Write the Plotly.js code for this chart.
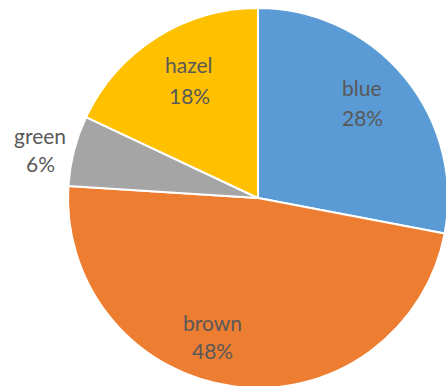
<!DOCTYPE html>
<html>
<head>
<meta charset="utf-8">
<script src="https://cdn.plot.ly/plotly-3.0.1.min.js"></script>
<style>
  html, body { margin: 0; padding: 0; overflow: hidden; background: #ffffff; width: 446px; height: 386px; }
  #chart { position: absolute; left: 0; top: 0; width: 460px; height: 400px; }
</style>
</head>
<body>
<div id="chart"></div>
<script>
const categories = ["blue", "brown", "green", "hazel"];
const values = [28, 48, 6, 18];
const sliceColors = ["#5B9BD5", "#ED7D31", "#A5A5A5", "#FFC000"];

const W = 460, H = 400;
// label centre positions (pixels) for name line and percent line
const labelPos = {
  blue:  [362, 88, 118],
  brown: [212, 322, 350],
  green: [40, 135, 163],
  hazel: [189, 65, 95]
};

const annotations = [];
categories.forEach((c, i) => {
  const p = labelPos[c];
  const base = {xref: "paper", yref: "paper", xanchor: "center", yanchor: "middle",
    showarrow: false, font: {family: "Lato, 'Open Sans', sans-serif", size: 21, color: "#595959"}};
  annotations.push(Object.assign({}, base, {x: p[0] / W, y: 1 - p[1] / H, text: c}));
  annotations.push(Object.assign({}, base, {x: p[0] / W, y: 1 - p[2] / H, text: values[i] + "%"}));
});

const data = [{
  type: "pie",
  labels: categories,
  values: values,
  sort: false,
  direction: "clockwise",
  rotation: 0,
  textinfo: "none",
  hoverinfo: "label+percent",
  marker: {colors: sliceColors, line: {color: "#ffffff", width: 2}},
  domain: {x: [68 / W, 448 / W], y: [1 - 388 / H, 1 - 8 / H]}
}];

const layout = {
  width: W, height: H,
  margin: {l: 0, r: 0, t: 0, b: 0},
  showlegend: false,
  paper_bgcolor: "#ffffff",
  annotations: annotations
};

Plotly.newPlot("chart", data, layout, {displayModeBar: false, staticPlot: true});
</script>
</body>
</html>
